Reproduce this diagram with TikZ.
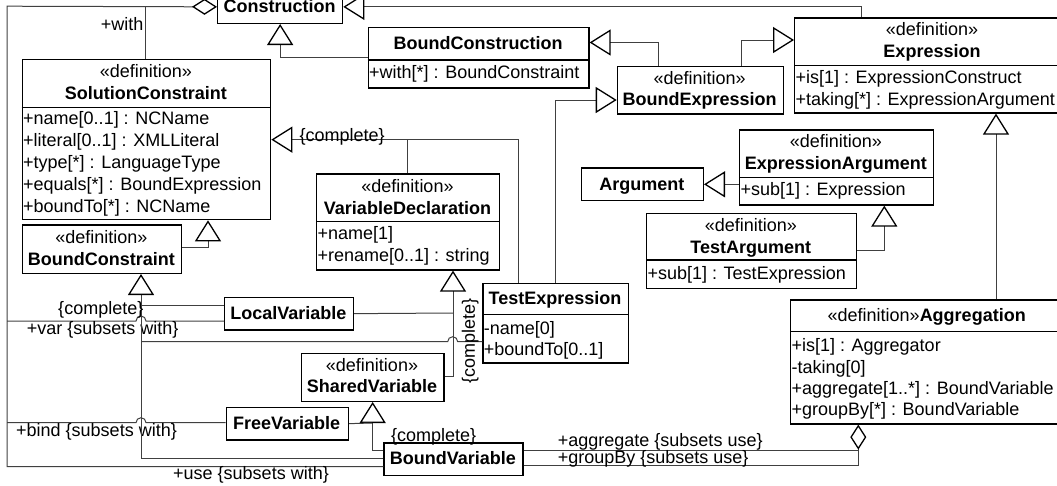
\documentclass[tikz,border=0pt]{standalone}
\usepackage{fontspec}
\setmainfont{Liberation Sans}
\usetikzlibrary{arrows.meta}
\begin{document}
\begin{tikzpicture}[x=1pt,y=-1pt,
  font=\fontsize{18}{22}\selectfont,
  cls/.style={draw=black, line width=1.3pt, fill=white, inner sep=0pt, anchor=north west},
  txt/.style={inner sep=0pt, text height=12.9pt, text depth=0pt},
  ttl/.style={txt, font=\fontsize{18}{22}\selectfont\bfseries},
  attr/.style={txt, anchor=west},
  lbl/.style={txt, anchor=base west},
  sep/.style={line width=1.3pt},
  link/.style={draw=black!75, line width=1pt},
  gen/.style={link, -{Triangle[open, length=21pt, width=26pt, line width=1.3pt, color=black]}},
  agg/.style={link, -{Diamond[open, length=25pt, width=16pt, line width=1.3pt, color=black]}},
]
\useasboundingbox (0,0) rectangle (1057,485);
\clip (0,0) rectangle (1057,485);

% ---------- classes ----------
\node[cls, minimum width=125pt, minimum height=33pt] (constr) at (217,-10.3) {};
\node[ttl] at (279.5,6.2) {Construction};

\node[cls, minimum width=248.3pt, minimum height=160pt] (sc) at (21.7,59) {};
\draw[sep] (sc.west |- 0,107.3) -- (sc.east |- 0,107.3);
\node[txt] at (145.8,71) {«definition»};
\node[ttl] at (145.8,92.7) {SolutionConstraint};
\node[attr] at (23,118) {+name[0..1] : NCName};
\node[attr] at (23,140) {+literal[0..1] : XMLLiteral};
\node[attr] at (23,162) {+type[*] : LanguageType};
\node[attr] at (23,184) {+equals[*] : BoundExpression};
\node[attr] at (23,206) {+boundTo[*] : NCName};

\node[cls, minimum width=159.3pt, minimum height=48.4pt] (bc) at (21.7,224.3) {};
\node[txt] at (101.3,237) {«definition»};
\node[ttl] at (101.3,259) {BoundConstraint};

\node[cls, minimum width=220.6pt, minimum height=60.6pt] (bcn) at (367.7,26.7) {};
\draw[sep] (bcn.west |- 0,60) -- (bcn.east |- 0,60);
\node[ttl] at (478,43.3) {BoundConstruction};
\node[attr] at (369,72) {+with[*] : BoundConstraint};

\node[cls, minimum width=166pt, minimum height=47.6pt] (bex) at (616.7,65.7) {};
\node[txt] at (699.7,77.7) {«definition»};
\node[ttl] at (699.7,99.4) {BoundExpression};

\node[cls, minimum width=276pt, minimum height=95pt] (expr) at (794,17.3) {};
\draw[sep] (expr.west |- 0,65.7) -- (expr.east |- 0,65.7);
\node[txt] at (932,29.3) {«definition»};
\node[ttl] at (932,51) {Expression};
\node[attr] at (795.3,77) {+is[1] : ExpressionConstruct};
\node[attr] at (795.3,99) {+taking[*] : ExpressionArgument};

\node[cls, minimum width=183pt, minimum height=96pt] (vd) at (316,173.3) {};
\draw[sep] (vd.west |- 0,221.7) -- (vd.east |- 0,221.7);
\node[txt] at (407.5,186) {«definition»};
\node[ttl] at (407.5,207.7) {VariableDeclaration};
\node[attr] at (317.3,233) {+name[1]};
\node[attr] at (317.3,255) {+rename[0..1] : string};

\node[cls, minimum width=121.7pt, minimum height=32.7pt] (arg) at (581,167.3) {};
\node[ttl] at (641.8,183.7) {Argument};

\node[cls, minimum width=193.7pt, minimum height=75pt] (ea) at (739,129.3) {};
\draw[sep] (ea.west |- 0,177.3) -- (ea.east |- 0,177.3);
\node[txt] at (835.8,141.5) {«definition»};
\node[ttl] at (835.8,163.3) {ExpressionArgument};
\node[attr] at (740.3,189.5) {+sub[1] : Expression};

\node[cls, minimum width=209.7pt, minimum height=75pt] (ta) at (646,212.7) {};
\draw[sep] (ta.west |- 0,260) -- (ta.east |- 0,260);
\node[txt] at (750.8,225.5) {«definition»};
\node[ttl] at (750.8,247) {TestArgument};
\node[attr] at (647.3,273.5) {+sub[1] : TestExpression};

\node[cls, minimum width=145.4pt, minimum height=79.6pt] (te) at (482.3,282.7) {};
\draw[sep] (te.west |- 0,314.3) -- (te.east |- 0,314.3);
\node[ttl] at (555,298.5) {TestExpression};
\node[attr] at (483.6,328.3) {-name[0]};
\node[attr] at (483.6,349.5) {+boundTo[0..1]};

\node[cls, minimum width=128.7pt, minimum height=32.6pt] (lv) at (224,296.7) {};
\node[ttl] at (288.3,313) {LocalVariable};

\node[cls, minimum width=142.6pt, minimum height=48pt] (sv) at (300.7,352.7) {};
\node[txt] at (372,365) {«definition»};
\node[ttl] at (372,386.5) {SharedVariable};

\node[cls, minimum width=122pt, minimum height=32.6pt] (fv) at (225.7,406.7) {};
\node[ttl] at (286.7,423) {FreeVariable};

\node[cls, minimum width=139pt, minimum height=32.7pt] (bv) at (383.3,442.3) {};
\node[ttl] at (452.8,458.5) {BoundVariable};

\node[cls, minimum width=273.4pt, minimum height=124pt] (agg) at (790,299.3) {};
\draw[sep] (agg.west |- 0,331.7) -- (agg.east |- 0,331.7);
\node[txt] at (926.7,315.5) {«definition»\textbf{Aggregation}};
\node[attr] at (791.3,345) {+is[1] : Aggregator};
\node[attr] at (791.3,366.7) {-taking[0]};
\node[attr] at (791.3,388.3) {+aggregate[1..*] : BoundVariable};
\node[attr] at (791.3,409.5) {+groupBy[*] : BoundVariable};

% ---------- associations owned by Construction ----------
\draw[agg] (bv.west |- 0,466.7) -- (7,466.7) -- (7,6.2) -- (constr.west);
\draw[link] (145.7,6.2) -- (sc.north -| 145.7,0);
\draw[link] (7,321) -- (136,321) arc[start angle=180, end angle=360, radius=5] -- (lv.west |- 0,321);
\draw[link] (7,422.7) -- (136,422.7) arc[start angle=180, end angle=360, radius=5] -- (fv.west |- 0,422.7);
\node[lbl, anchor=base east] at (143.5,30) {+with};
\node[lbl] at (26.7,334) {+var \{subsets with\}};
\node[lbl] at (16,436) {+bind \{subsets with\}};
\node[lbl] at (173,479.5) {+use \{subsets with\}};

% ---------- generalizations ----------
\draw[gen] (bcn.west) -| (constr.south);
\draw[gen] (expr.north -| 861,0) |- (constr.east);
\draw[gen] (bex.north -| 658.3,0) |- (bcn.east |- 0,42.5);
\draw[gen] (bex.north -| 741.7,0) |- (expr.west |- 0,40);
\draw[gen] (te.north -| 555,0) |- (bex.west |- 0,100);

\draw[gen] (te.north -| 518.3,0) |- (sc.east);
\draw[link] (vd.north -| 407.7,0) -- (407.7,139);
\node[lbl] at (299.5,141) {\{complete\}};

\draw[gen] (bc.east |- 0,247.3) -| (sc.south -| 208,0);

\draw[gen] (bv.west |- 0,458.3) -- (141,458.3) -- (bc.south -| 141,0);
\draw[link] (lv.west |- 0,305.3) -- (141,305.3);
\draw[link] (141,341.7) -- (447.7,341.7) arc[start angle=180, end angle=360, radius=5] -- (te.west |- 0,341.7);
\node[lbl, anchor=base east] at (143.5,314) {\{complete\}};

\draw[gen] (sv.east |- 0,376.7) -| (vd.south -| 453,0);
\draw[link] (lv.east) -- (453,313);
\node[txt, rotate=90] at (468.5,341) {\{complete\}};

\draw[gen] (bv.west |- 0,450) -| (sv.south);
\draw[link] (fv.east) -- (372,423);
\node[lbl] at (391,441) {\{complete\}};

\draw[gen] (ea.west |- arg.east) -- (arg.east);
\draw[gen] (ta.east |- 0,250) -| (ea.south -| 884.3,0);
\draw[gen] (agg.north -| 996,0) -- (expr.south -| 996,0);

% ---------- aggregation of bound variables ----------
\draw[agg] (bv.east |- 0,450) -| (agg.south -| 858.3,0);
\draw[link] (bv.east |- 0,465.7) -| (858.3,450);
\node[lbl] at (557.7,446.3) {+aggregate \{subsets use\}};
\node[lbl] at (557.7,463) {+groupBy \{subsets use\}};
\end{tikzpicture}
\end{document}
